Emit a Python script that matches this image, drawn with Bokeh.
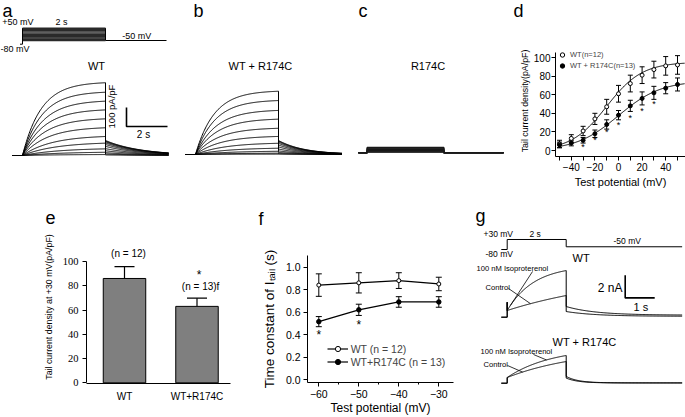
import numpy as np
from bokeh.plotting import figure
from bokeh.models import (Range1d, Label, Whisker, TeeHead, ColumnDataSource, FixedTicker,
                          Legend, LegendItem, NumeralTickFormatter)
from bokeh.layouts import row, column
from bokeh.embed import file_html
from bokeh.resources import INLINE
from bokeh.core.properties import value

FONT = "Liberation Sans"
SERIF = "Liberation Serif"

# ---------------- data ----------------
# a: WT current traces (pA/pF) for test pulses +50 ... -50 mV
a_volt = [50, 40, 30, 20, 10, 0, -10, -20, -30, -40, -50]
a_step_amp = [383, 333, 286, 240, 193, 146, 100, 65, 35, 17, 5]
a_tau_act = [0.45, 0.47, 0.5, 0.52, 0.55, 0.6, 0.7, 0.8, 0.9, 1.0, 1.0]
a_tail_amp = [79, 76, 72, 66, 58, 48, 36, 25, 15, 8, 3]
a_tau_tail = 0.86
# b: WT + R174C
b_step_amp = [333, 284, 232, 186, 138, 95, 59, 33, 17, 7, 2]
b_tau_act = [0.45, 0.47, 0.5, 0.52, 0.55, 0.6, 0.7, 0.8, 0.9, 1.0, 1.0]
b_tail_amp = [74, 71, 66, 59, 50, 40, 29, 19, 11, 5, 2]
b_tau_tail = 0.62
# c: R174C
c_step_amp = [29, 27, 24, 21, 18, 16, 13, 10, 8, 5, 3]

# d: tail current density vs test potential
d_v = [-50, -40, -30, -20, -10, 0, 10, 20, 30, 40, 50]
d_wt = [7, 13, 21, 34, 47, 61, 72, 81, 87, 91, 92]
d_wt_err = [4, 4, 5, 6, 8, 9, 9, 9, 9, 10, 10]
d_mut = [6, 8, 11, 18, 28, 38, 48, 56, 62, 67, 71]
d_mut_err = [3, 3, 3, 4, 5, 5, 6, 7, 7, 6, 7]
d_star_v = [-30, -20, -10, 0, 10, 20, 30]
d_star_y = [4, 11, 20, 27, 35, 43, 50]
d_fit_wt = [95, -10, 15]     # Imax, V1/2, k
d_fit_mut = [75, 0, 18]

# e: tail current density at +30 mV
e_groups = ["WT", "WT+R174C"]
e_mean = [86, 63]
e_err = [9.7, 6.8]
e_n = ["(n = 12)", "(n = 13)f"]

# f: time constant of I_tail
f_v = [-60, -50, -40, -30]
f_wt = [0.84, 0.86, 0.88, 0.85]
f_wt_err = [0.10, 0.09, 0.07, 0.06]
f_mut = [0.515, 0.62, 0.69, 0.69]
f_mut_err = [0.045, 0.05, 0.047, 0.047]
f_star_v = [-60, -50]
f_star_y = [0.40, 0.485]

# g: isoproterenol effect (nA)
g_cond = ["Control", "100 nM Isoproterenol"]
g_wt_start = [0.59, 0.59]
g_wt_end = [1.91, 4.11]
g_wt_tau = [4.0, 0.91]
g_wt_tail = [0.50, 0.94]
g_wt_tail_ss = [0.08, 0.18]
g_mut_start = [0.5, 0.5]
g_mut_end = [1.91, 2.44]
g_mut_tau = [2.5, 1.5]
g_mut_tail = [0.45, 0.6]
g_mut_tail_ss = [0.02, 0.03]


# ---------------- helpers ----------------
class Panel:
    def __init__(self, w, h, left, top, mx, my, bl=0, br=0, bt=0, bb=0, axes=False):
        self.fl = left + bl
        self.fr = left + w - br
        self.ft = top + bt
        self.fb = top + h - bb
        self.mx, self.my = mx, my
        kw = dict(width=w, height=h,
                  x_range=Range1d(mx(self.fl), mx(self.fr)),
                  y_range=Range1d(my(self.fb), my(self.ft)),
                  toolbar_location=None, output_backend="svg", title=None,
                  min_border_left=bl, min_border_right=br,
                  min_border_top=bt, min_border_bottom=bb)
        if not axes:
            kw.update(x_axis_type=None, y_axis_type=None)
        self.p = figure(**kw)
        self.p.outline_line_color = None
        if axes:
            self.p.xgrid.visible = False
            self.p.ygrid.visible = False

    def extra_y(self, name, m):
        d = dict(self.p.extra_y_ranges)
        d[name] = Range1d(m(self.fb), m(self.ft))
        self.p.extra_y_ranges = d

    def text(self, rx, ry, s, size, align="left", baseline="middle", font=FONT,
             angle=0.0, style="normal"):
        self.p.add_layout(Label(x=self.mx(rx), y=self.my(ry), text=s, text_font=font,
                                text_font_size=f"{size}px", text_align=align,
                                text_baseline=baseline, angle=angle,
                                text_font_style=style, text_color="black"))


def act_trace(t_pre, start, end, tau, tail0, tail_ss, tail_tau, t_end, spike=None):
    ts = np.linspace(0, 2, 150)
    frac = (1 - np.exp(-ts / tau)) / (1 - np.exp(-2 / tau))
    i_s = start + (end - start) * frac
    tt = np.linspace(2, t_end, 150)
    i_t = tail_ss + (tail0 - tail_ss) * np.exp(-(tt - 2) / tail_tau)
    xs = [t_pre, 0.0]
    ys = [0.0, 0.0]
    if spike is not None:
        xs.append(0.0)
        ys.append(spike)
    xs += list(ts) + list(tt)
    ys += list(i_s) + list(i_t)
    return xs, ys


def style_axes(p, tick_size, tick_font=FONT):
    for ax in (p.xaxis, p.yaxis):
        ax.axis_line_color = "black"
        ax.major_tick_line_color = "black"
        ax.minor_tick_line_color = "black"
        ax.major_tick_in = 0
        ax.minor_tick_in = 0
        ax.major_tick_out = 4
        ax.minor_tick_out = 2
        ax.major_label_text_font = tick_font
        ax.major_label_text_font_size = f"{tick_size}px"
        ax.major_label_text_color = "black"
        ax.axis_label_text_font_style = "normal"
        ax.axis_label_text_color = "black"


LETTER = 18
ident_x = lambda x: x
ident_y = lambda y: -y

# ---------------- panel a ----------------
A = Panel(180, 200, 0, 0, lambda x: (x - 22) / 41.5, lambda y: (155 - y) / 0.19)
A.extra_y("mv", lambda y: -50 + (40 - y) / 0.123)
pa = A.p
xs_a, ys_a = [], []
for i in range(len(a_volt)):
    x_, y_ = act_trace(-0.25, 0, a_step_amp[i], a_tau_act[i], a_tail_amp[i], 0, a_tau_tail, 3.52)
    xs_a.append(x_); ys_a.append(y_)
pa.multi_line(xs_a, ys_a, line_color="black", line_width=1)
pa.segment(x0=[0] * len(a_volt), y0=a_volt, x1=[2] * len(a_volt), y1=a_volt,
           y_range_name="mv", line_color="#2a2a2a", line_width=1.4)
pa.line([-0.06, 0, 0], [-80, -80, max(a_volt)], y_range_name="mv", line_color="black", line_width=1)
pa.line([2, 2, 3.47], [max(a_volt), min(a_volt), min(a_volt)], y_range_name="mv",
        line_color="black", line_width=1)
# scale bar 100 pA/pF
pa.line([2.506, 2.506, 3.494], [252.6, 152.6, 152.6], line_color="black", line_width=1.6)
A.text(2, 10, "a", LETTER)
A.text(1.7, 21.7, "+50 mV", 9)
A.text(55, 21.7, "2 s", 9)
A.text(121.7, 35, "-50 mV", 9)
A.text(0, 48.3, "-80 mV", 9)
A.text(96, 65, "WT", 11, align="center")
A.text(110.5, 106, "100 pA/pF", 9.5, align="center", angle=np.pi / 2)
A.text(143, 134, "2 s", 10, align="center")

# ---------------- panel b ----------------
B = Panel(170, 200, 180, 0, lambda x: (x - 195) / 41.5, lambda y: (154 - y) / 0.19)
pb = B.p
xs_b, ys_b = [], []
for i in range(len(a_volt)):
    x_, y_ = act_trace(-0.24, 0, b_step_amp[i], b_tau_act[i], b_tail_amp[i], 0, b_tau_tail, 3.53)
    xs_b.append(x_); ys_b.append(y_)
pb.multi_line(xs_b, ys_b, line_color="black", line_width=1)
B.text(193, 10, "b", LETTER)
B.text(260, 65, "WT + R174C", 11, align="center")

# ---------------- panel c ----------------
C = Panel(155, 200, 350, 0, lambda x: (x - 366.7) / 38.3, lambda y: (152.3 - y) / 0.19)
pc = C.p
xs_c = [[-0.23, 0, 0, 2, 2, 3.56] for _ in c_step_amp]
ys_c = [[0, 0, amp, amp, 0, 0] for amp in c_step_amp]
pc.multi_line(xs_c, ys_c, line_color="#1a1a1a", line_width=1.1)
C.text(358, 10, "c", LETTER)
C.text(427.5, 65, "R174C", 11, align="center")

# ---------------- panel d ----------------
SD = Panel(180, 20, 505, 0, ident_x, ident_y)      # strip holding the panel letter
SD.text(513, 10, "d", LETTER)
D = Panel(180, 180, 505, 20, lambda x: -50 + (x - 559) / 1.18, lambda y: (150 - y) / 0.93,
          bl=50, br=0, bt=25, bb=44, axes=True)
pd_ = D.p
style_axes(pd_, 10)
pd_.xaxis.ticker = FixedTicker(ticks=[-40, -20, 0, 20, 40], minor_ticks=[-50, -30, -10, 10, 30, 50])
pd_.yaxis.ticker = FixedTicker(ticks=[0, 20, 40, 60, 80, 100])
pd_.xaxis.minor_tick_out = 4
pd_.yaxis.bounds = (D.my(D.fb), 105)
pd_.xaxis.axis_label = "Test potential (mV)"
pd_.yaxis.axis_label = "Tail current density(pA/pF)"
pd_.xaxis.axis_label_text_font = FONT
pd_.xaxis.axis_label_text_font_size = "11px"
pd_.yaxis.axis_label_text_font = FONT
pd_.yaxis.axis_label_text_font_size = "8.8px"
pd_.xaxis.major_label_standoff = 2
pd_.yaxis.major_label_standoff = 1
pd_.xaxis.axis_label_standoff = 2
pd_.yaxis.axis_label_standoff = 1
vfit = np.linspace(-50, 56, 200)
for prm in (d_fit_wt, d_fit_mut):
    pd_.line(vfit, prm[0] / (1 + np.exp((prm[1] - vfit) / prm[2])), line_color="black", line_width=1)
src_dw = ColumnDataSource(dict(v=d_v, lo=[m - e for m, e in zip(d_wt, d_wt_err)],
                               hi=[m + e for m, e in zip(d_wt, d_wt_err)]))
src_dm = ColumnDataSource(dict(v=d_v, lo=[m - e for m, e in zip(d_mut, d_mut_err)],
                               hi=[m + e for m, e in zip(d_mut, d_mut_err)]))
for s in (src_dw, src_dm):
    pd_.add_layout(Whisker(source=s, base="v", upper="hi", lower="lo", line_color="black",
                           line_width=1, upper_head=TeeHead(size=5, line_color="black"),
                           lower_head=TeeHead(size=5, line_color="black")))
r_dw = pd_.scatter(d_v, d_wt, marker="circle", size=4, fill_color="white", line_color="black")
r_dm = pd_.scatter(d_v, d_mut, marker="circle", size=4, fill_color="black", line_color="black")
pd_.text(x=d_star_v, y=d_star_y, text=["*"] * len(d_star_v), text_font=value(FONT),
         text_font_size="9px", text_align="center", text_baseline="middle", text_color="black")
# legend: location is the bottom-left corner, measured from the frame's bottom-left
leg_d = Legend(items=[LegendItem(label="WT(n=12)", renderers=[r_dw]),
                      LegendItem(label="WT + R174C(n=13)", renderers=[r_dm])],
               location=(1, D.fb - 71), glyph_width=12, glyph_height=11, label_height=11,
               label_text_font=FONT, label_text_font_size="7.5px", label_standoff=2,
               padding=0, spacing=0, margin=0, border_line_color=None,
               background_fill_alpha=0)
pd_.add_layout(leg_d)

# ---------------- strip with letters e, f ----------------
SEF = Panel(455, 30, 0, 200, ident_x, ident_y)
SEF.text(45, 217, "e", LETTER)
SEF.text(258, 218, "f", LETTER)

# ---------------- panel e ----------------
E = Panel(233, 187, 0, 230, lambda x: 1 + (x - 124) / 72.5, lambda y: (382.3 - y) / 1.213,
          bl=86, br=3, bt=0, bb=34, axes=True)
pe = E.p
style_axes(pe, 10.5, SERIF)
e_x = [1, 2]
pe.vbar(x=e_x, top=e_mean, width=0.586, bottom=0, fill_color="#7f7f7f", line_color="black",
        line_width=1)
src_e = ColumnDataSource(dict(x=e_x, lo=e_mean, hi=[m + e for m, e in zip(e_mean, e_err)]))
pe.add_layout(Whisker(source=src_e, base="x", upper="hi", lower="lo", line_color="black",
                      line_width=1.2, upper_head=TeeHead(size=20, line_color="black", line_width=1.2),
                      lower_head=None))
pe.xaxis.ticker = FixedTicker(ticks=e_x)
pe.xaxis.major_label_overrides = {1: e_groups[0], 2: e_groups[1]}
pe.xaxis.major_label_text_font = FONT
pe.xaxis.major_label_text_font_size = "10px"
pe.xaxis.major_tick_out = 0
pe.xaxis.major_label_standoff = 7
pe.yaxis.ticker = FixedTicker(ticks=[0, 20, 40, 60, 80, 100])
pe.yaxis.bounds = (0, 100)
pe.yaxis.major_label_standoff = 4
pe.yaxis.axis_label = "Tail current density at +30 mV(pA/pF)"
pe.yaxis.axis_label_text_font = FONT
pe.yaxis.axis_label_text_font_size = "8.8px"
pe.yaxis.axis_label_standoff = 6
pe.text(x=[1.055, 2.05], y=[e_mean[0] + e_err[0] + 11, e_mean[1] + e_err[1] + 9.6], text=e_n,
        text_font=value(FONT), text_font_size="10px", text_align="center",
        text_baseline="middle", text_color="black")
pe.text(x=[2.03], y=[e_mean[1] + e_err[1] + 18.7], text=["*"], text_font=value(FONT),
        text_font_size="12px", text_align="center", text_baseline="middle", text_color="black")

# ---------------- panel f ----------------
F = Panel(222, 187, 233, 230, lambda x: -60 + (x - 318.3) / 4.0,
          lambda y: (380 - y) / 113.3, bl=74, br=2, bt=25, bb=34, axes=True)
pf = F.p
style_axes(pf, 10.5)
pf.xaxis.ticker = FixedTicker(ticks=f_v, minor_ticks=[-55, -45, -35])
pf.yaxis.ticker = FixedTicker(ticks=[0, 0.2, 0.4, 0.6, 0.8, 1.0])
pf.yaxis.formatter = NumeralTickFormatter(format="0.0")
pf.xaxis.axis_label = "Test potential (mV)"
pf.yaxis.axis_label = "Time constant of Iₜₐᵢₗ (s)"
for ax in (pf.xaxis, pf.yaxis):
    ax.axis_label_text_font = FONT
pf.xaxis.axis_label_text_font_size = "12px"
pf.yaxis.axis_label_text_font_size = "13.5px"
pf.xaxis.major_label_standoff = 3
pf.xaxis.axis_label_standoff = 0
pf.yaxis.major_label_standoff = 3
pf.yaxis.axis_label_standoff = 6
src_fw = ColumnDataSource(dict(v=f_v, lo=[m - e for m, e in zip(f_wt, f_wt_err)],
                               hi=[m + e for m, e in zip(f_wt, f_wt_err)]))
src_fm = ColumnDataSource(dict(v=f_v, lo=[m - e for m, e in zip(f_mut, f_mut_err)],
                               hi=[m + e for m, e in zip(f_mut, f_mut_err)]))
for s in (src_fw, src_fm):
    pf.add_layout(Whisker(source=s, base="v", upper="hi", lower="lo", line_color="black",
                          line_width=1, upper_head=TeeHead(size=6, line_color="black"),
                          lower_head=TeeHead(size=6, line_color="black")))
l_fw = pf.line(f_v, f_wt, line_color="black", line_width=1.2)
s_fw = pf.scatter(f_v, f_wt, marker="circle", size=4, fill_color="white", line_color="black")
l_fm = pf.line(f_v, f_mut, line_color="black", line_width=1.2)
s_fm = pf.scatter(f_v, f_mut, marker="circle", size=4.5, fill_color="black", line_color="black")
pf.text(x=f_star_v, y=f_star_y, text=["*"] * len(f_star_v), text_font=value(FONT),
        text_font_size="12px", text_align="center", text_baseline="middle", text_color="black")
leg_f = Legend(items=[LegendItem(label="WT (n = 12)", renderers=[l_fw, s_fw]),
                      LegendItem(label="WT+R174C (n = 13)", renderers=[l_fm, s_fm])],
               location=(326.7 - F.fl, F.fb - 369), glyph_width=21,
               glyph_height=13, label_height=12, label_text_font=FONT,
               label_text_font_size="10.5px", label_standoff=3, padding=0, spacing=0,
               margin=0, border_line_color=None, background_fill_alpha=0)
pf.add_layout(leg_f)

# ---------------- panel g ----------------
G = Panel(230, 217, 455, 200, lambda x: (x - 506.7) / 29.5, lambda y: (316.7 - y) / 11.35)
G.extra_y("mut", lambda y: (382.7 - y) / 11.35)
G.extra_y("mv", lambda y: -80 + (249 - y) / 0.091)
pg = G.p
pg.line([-0.2, 0, 0, 2, 2, 5.93], [-80, -80, 30, 30, -50, -50], y_range_name="mv",
        line_color="black", line_width=1)
wt_tr, mut_tr = [], []
for k in range(len(g_cond)):
    x_, y_ = act_trace(-0.2, g_wt_start[k], g_wt_end[k], g_wt_tau[k], g_wt_tail[k],
                       g_wt_tail_ss[k], 1.0, 5.93, spike=1.32)
    wt_tr.append((x_, y_))
    pg.line(x_, y_, line_color="black", line_width=1)
    x_, y_ = act_trace(-0.2, g_mut_start[k], g_mut_end[k], g_mut_tau[k], g_mut_tail[k],
                       g_mut_tail_ss[k], 0.4, 5.93)
    mut_tr.append((x_, y_))
    pg.line(x_, y_, line_color="black", line_width=1, y_range_name="mut")


def on_trace(tr, t):
    x_, y_ = tr
    n = 153 if len(x_) > 302 else 152
    xs = np.array(x_[n - 150:n])
    ys = np.array(y_[n - 150:n])
    return float(np.interp(t, xs, ys))


# leader lines (label anchor -> point on trace)
pg.segment(x0=[0.86, 0.044], y0=[4.03, 2.53], x1=[0.11, 0.79],
           y1=[on_trace(wt_tr[1], 0.11), on_trace(wt_tr[0], 0.79)], line_color="black", line_width=0.8)
pg.segment(x0=[0.89, 0.01], y0=[2.53, 1.56], x1=[1.33, 0.52],
           y1=[on_trace(mut_tr[1], 1.33), on_trace(mut_tr[0], 0.52)], line_color="black",
           line_width=0.8, y_range_name="mut")
# scale bar 2 nA / 1 s
pg.line([4.0, 4.0, 5.0], [3.7, 1.7, 1.7], line_color="black", line_width=1.6)
G.text(475, 215, "g", LETTER)
G.text(483, 233, "+30 mV", 8.5)
G.text(529, 233, "2 s", 8.5)
G.text(613, 240, "-50 mV", 8.5)
G.text(485, 253, "-80 mV", 8.5)
G.text(572, 257, "WT", 11)
G.text(476, 267.5, g_cond[1], 7.6)
G.text(485, 287, g_cond[0], 7.6)
G.text(622, 287, "2 nA", 12, align="right")
G.text(633, 306, "1 s", 11)
G.text(584, 341, "WT + R174C", 11, align="center")
G.text(480, 351, g_cond[1], 7.6)
G.text(483, 364, g_cond[0], 7.6)

layout = column(
    row(column(pa), column(pb), column(pc), column(column(SD.p), column(pd_))),
    row(column(column(SEF.p), row(column(pe), column(pf))), column(pg)),
)
open("out.html", "w").write(file_html(layout, INLINE))
